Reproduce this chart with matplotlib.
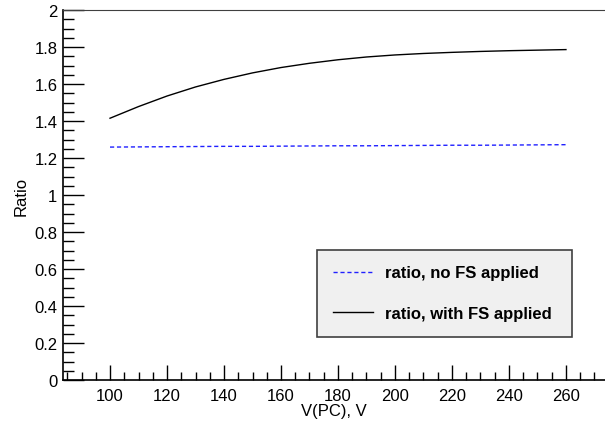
import matplotlib
matplotlib.use("Agg")
import matplotlib.pyplot as plt
from matplotlib.ticker import MultipleLocator

# data
voltage = [100, 110, 120, 130, 140, 150, 160, 170, 180, 190, 200, 210, 220, 230, 240, 250, 260]
ratio_with_fs = [1.415, 1.478, 1.535, 1.584, 1.625, 1.66, 1.689, 1.712, 1.731, 1.746,
                 1.757, 1.765, 1.771, 1.776, 1.780, 1.783, 1.786]
ratio_no_fs = [1.259, 1.260, 1.261, 1.262, 1.263, 1.263, 1.264, 1.265, 1.266, 1.266,
               1.267, 1.268, 1.269, 1.269, 1.270, 1.271, 1.272]

plt.rcParams['font.family'] = ['Liberation Sans', 'DejaVu Sans']

fig = plt.figure(figsize=(6.05, 4.27), dpi=100)
ax = fig.add_axes([63 / 605, 46 / 427, 542 / 605, 370 / 427])

ax.plot(voltage, ratio_no_fs, color='#2020ff', linestyle=(0, (3, 2)), lw=1.0,
        label='ratio, no FS applied')
ax.plot(voltage, ratio_with_fs, color='black', lw=1.0, label='ratio, with FS applied')

ax.set_xlim(83.5, 273.7)
ax.set_ylim(0, 2)

ax.xaxis.set_major_locator(MultipleLocator(20))
ax.xaxis.set_minor_locator(MultipleLocator(5))
ax.yaxis.set_major_locator(MultipleLocator(0.2))
ax.yaxis.set_minor_locator(MultipleLocator(0.05))
ax.yaxis.set_major_formatter(plt.FuncFormatter(lambda v, p: '%g' % round(v, 2)))

ax.tick_params(axis='x', which='major', direction='in', length=11, width=1, labelsize=12, pad=6)
ax.tick_params(axis='x', which='minor', direction='in', length=6, width=1)
ax.tick_params(axis='y', which='major', direction='in', length=15, width=1, labelsize=12, pad=4)
ax.tick_params(axis='y', which='minor', direction='in', length=8, width=1)

ax.spines['right'].set_visible(False)
ax.spines['top'].set_color('#404040')
for s in ['left', 'bottom']:
    ax.spines[s].set_linewidth(1.2)

ax.set_xlabel('V(PC), V', fontsize=12, labelpad=0)
ax.set_ylabel('Ratio', fontsize=12, labelpad=4)

leg = ax.legend(loc='lower left', bbox_to_anchor=(0.4686, 0.116, 0.4705, 0.262),
                mode='expand', borderaxespad=0, fancybox=False, frameon=True,
                prop={'weight': 'bold', 'size': 12}, handlelength=2.4,
                handletextpad=0.75, labelspacing=1.55, borderpad=0.95)
leg.get_frame().set_facecolor('#f0f0f0')
leg.get_frame().set_edgecolor('#404040')
leg.get_frame().set_alpha(1)
leg.get_frame().set_linewidth(1.2)

fig.savefig('out.png', dpi=100)
